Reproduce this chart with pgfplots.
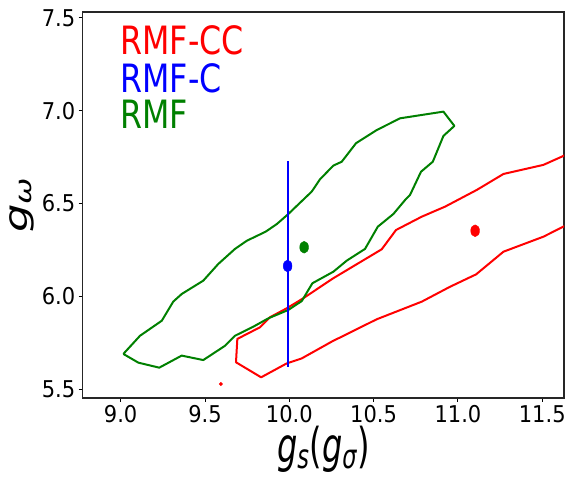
\documentclass[border=0pt]{standalone}
\usepackage{pgfplots}
\pgfplotsset{compat=1.18}
\usepackage{graphicx}
\usepackage{fontspec}
\setmainfont{DejaVu Sans}
\definecolor{mplgreen}{RGB}{0,128,0}
\newcommand\tl[1]{\scalebox{1}[1.1]{#1}}
\begin{document}
\begin{tikzpicture}
\begin{axis}[
  scale only axis, width=481.3pt, height=386pt,
  xmin=8.775, xmax=11.629, ymin=5.4515, ymax=7.532,
  xtick={9,9.5,10,10.5,11,11.5},
  xticklabels={\tl{9.0},\tl{9.5},\tl{10.0},\tl{10.5},\tl{11.0},\tl{11.5}},
  ytick={5.5,6,6.5,7,7.5},
  yticklabels={\tl{5.5},\tl{6.0},\tl{6.5},\tl{7.0},\tl{7.5}},
  tick align=outside, major tick length=4pt,
  tick style={black, line width=0.9pt},
  xtick pos=lower, ytick pos=left,
  axis line style={line width=1.1pt, black!85},
  tick label style={font=\fontsize{21}{24}\selectfont},
  xlabel={\scalebox{1}[1.5]{\fontsize{32}{36}\selectfont{\itshape g}\textsubscript{\itshape s}({\itshape g}\textsubscript{\itshape σ})}},
  ylabel={\scalebox{1.4}[1]{\fontsize{32}{36}\selectfont{\itshape g}\textsubscript{\itshape ω}}},
  xlabel style={at={(axis description cs:0.5,0)}, anchor=north, yshift=-28pt, inner sep=0pt},
  ylabel style={at={(axis description cs:0,0.5)}, anchor=south, yshift=48pt, inner sep=0pt},
]
\coordinate (ll) at (rel axis cs:0,0);
\coordinate (ur) at (rel axis cs:1,1);
% RMF-CC contour
\addplot[red, line width=2pt, line join=round] coordinates {
(11.70,6.41) (11.625,6.375) (11.507,6.321) (11.270,6.240) (11.108,6.118)
(10.953,6.051) (10.786,5.971) (10.519,5.876) (10.311,5.782) (10.261,5.760)
(10.074,5.665) (9.985,5.638) (9.833,5.563) (9.684,5.644) (9.692,5.770)
(9.827,5.833) (9.886,5.887) (9.985,5.935) (10.083,5.989) (10.261,6.097)
(10.548,6.253) (10.633,6.357) (10.786,6.429) (10.924,6.483) (11.112,6.573)
(11.270,6.659) (11.507,6.708) (11.625,6.756) (11.70,6.80)
};
% RMF contour
\addplot[mplgreen, line width=2pt, line join=round] coordinates {
(9.016,5.689) (9.115,5.787) (9.244,5.868) (9.312,5.971) (9.362,6.012)
(9.490,6.084) (9.579,6.174) (9.678,6.255) (9.748,6.299) (9.860,6.348)
(9.926,6.389) (9.994,6.443) (10.064,6.504) (10.133,6.564) (10.182,6.630)
(10.261,6.704) (10.311,6.725) (10.396,6.825) (10.519,6.896) (10.657,6.959)
(10.914,6.995) (10.979,6.918) (10.914,6.864) (10.851,6.725) (10.781,6.671)
(10.716,6.546) (10.687,6.519) (10.617,6.443) (10.525,6.375) (10.449,6.255)
(10.341,6.192) (10.261,6.132) (10.137,6.070) (10.074,5.974) (9.994,5.926)
(9.876,5.881) (9.787,5.836) (9.678,5.787) (9.619,5.733) (9.490,5.656)
(9.362,5.680) (9.229,5.615) (9.105,5.642) (9.016,5.689)
};
% RMF-C error bar
\addplot[blue, line width=2pt, mark=none, draw=none,
  error bars/.cd, y dir=both, y explicit, error mark=none,
  error bar style={blue, line width=2pt}] coordinates {
(9.99,6.163) += (0,0.566) -= (0,0.546)
};
% best-fit points
\addplot[only marks, mark=*, red, mark size=4.4pt, mark options={yscale=1.35}] coordinates {(11.102,6.353)};
\addplot[only marks, mark=*, red, mark size=1.7pt] coordinates {(9.594,5.527)};
\addplot[only marks, mark=*, mplgreen, mark size=4.4pt, mark options={yscale=1.35}] coordinates {(10.088,6.264)};
\addplot[only marks, mark=*, blue, mark size=4.4pt, mark options={yscale=1.35}] coordinates {(9.99,6.163)};
% legend texts
\node[anchor=base west, inner sep=0pt, text=red, font=\fontsize{31.7}{36}\selectfont] at (axis description cs:0.0783,0.8886) {\scalebox{1}[1.23]{RMF-CC}};
\node[anchor=base west, inner sep=0pt, text=blue, font=\fontsize{31.7}{36}\selectfont] at (axis description cs:0.0783,0.792) {\scalebox{1}[1.23]{RMF-C}};
\node[anchor=base west, inner sep=0pt, text=mplgreen, font=\fontsize{31.7}{36}\selectfont] at (axis description cs:0.0783,0.6987) {\scalebox{1}[1.23]{RMF}};
\end{axis}
\pgfresetboundingbox
\path[use as bounding box] ([shift={(-82.7pt,-86pt)}]ll) rectangle ([shift={(1pt,12pt)}]ur);
\end{tikzpicture}
\end{document}
